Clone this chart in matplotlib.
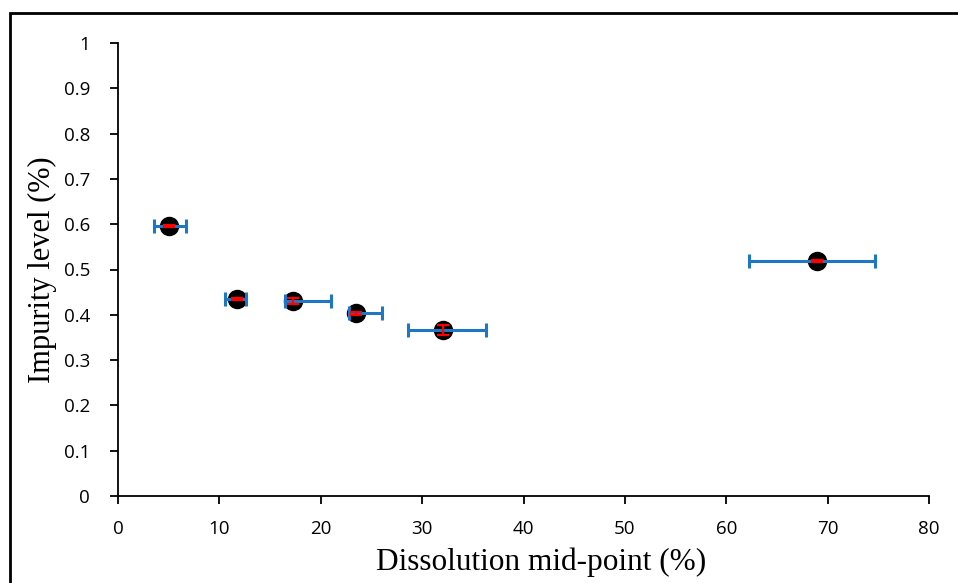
import matplotlib
matplotlib.use("Agg")
import matplotlib.pyplot as plt
from matplotlib.patches import Rectangle

# Dissolution mid-point (%) and impurity level (%) per fraction
midpoint = [5.0, 11.7, 17.3, 23.5, 32.1, 69.0]
impurity = [0.596, 0.435, 0.431, 0.403, 0.366, 0.519]
# Horizontal error (lower, upper) in % dissolved
x_err_low = [1.4, 1.1, 0.8, 0.7, 3.45, 6.8]
x_err_high = [1.7, 0.9, 3.75, 2.5, 4.2, 5.7]
# Vertical error in % impurity
y_err = [0.003, 0.003, 0.007, 0.003, 0.011, 0.003]

x_ticks = list(range(0, 81, 10))
y_ticks = [0, 0.1, 0.2, 0.3, 0.4, 0.5, 0.6, 0.7, 0.8, 0.9, 1]
y_tick_labels = ["0", "0.1", "0.2", "0.3", "0.4", "0.5", "0.6", "0.7", "0.8", "0.9", "1"]

fig = plt.figure(figsize=(9.58, 5.83), dpi=100)
ax = fig.add_axes([118 / 958, 1 - 496 / 583, (929 - 118) / 958, (496 - 43) / 583])

ax.plot(midpoint, impurity, linestyle="none", marker="o", markersize=13,
        markerfacecolor="black", markeredgecolor="black", zorder=2)
ax.errorbar(midpoint, impurity, xerr=[x_err_low, x_err_high], fmt="none",
            ecolor="#1f77c4", elinewidth=2.2, capsize=5, capthick=2.2, zorder=3)
ax.errorbar(midpoint, impurity, yerr=y_err, fmt="none",
            ecolor="#ff0000", elinewidth=1.6, capsize=4, capthick=1.6, zorder=4)

ax.set_xlim(0, 80)
ax.set_ylim(0, 1)
ax.set_xticks(x_ticks)
ax.set_yticks(y_ticks)
ax.set_yticklabels(y_tick_labels)

for s in ["top", "right"]:
    ax.spines[s].set_visible(False)
for s in ["left", "bottom"]:
    ax.spines[s].set_linewidth(1.3)
ax.tick_params(axis="both", direction="out", length=6, width=1.3,
               labelsize=13.5)
for lab in ax.get_xticklabels() + ax.get_yticklabels():
    lab.set_fontfamily("Open Sans")
ax.tick_params(axis="x", pad=11)
ax.tick_params(axis="y", pad=14)

ax.set_xlabel("Dissolution mid-point (%)", fontfamily="Liberation Serif",
              fontsize=22.5, labelpad=7)
ax.xaxis.label.set_x(0.522)
ax.set_ylabel("Impurity level (%)", fontfamily="Liberation Serif",
              fontsize=22, labelpad=5)

# outer frame around the chart area
fig.patches.append(Rectangle((10 / 958, -0.05), 1.1, 1 - 13 / 583 + 0.05,
                             transform=fig.transFigure, fill=False,
                             edgecolor="black", linewidth=2, zorder=0))

fig.savefig("out.png", dpi=100)
